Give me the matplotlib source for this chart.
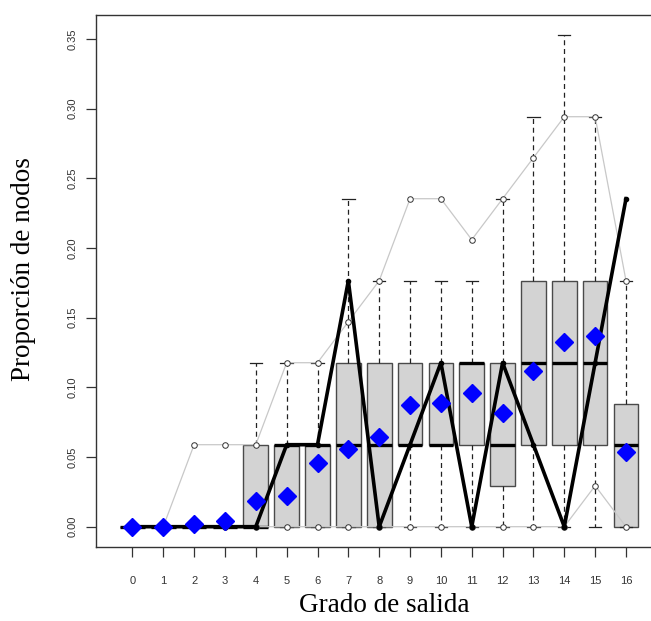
import numpy as np
import matplotlib.pyplot as plt

# grado de salida 0..16, valores en multiplos de 1/17
grados = list(range(17))
q1 = np.array([0, 0, 0, 0, 0, 0, 0, 0, 0, 1, 1, 1, 0.5, 1, 1, 1, 0]) / 17
mediana = np.array([0, 0, 0, 0, 0, 1, 1, 1, 1, 1, 1, 2, 1, 2, 2, 2, 1]) / 17
q3 = np.array([0, 0, 0, 0, 1, 1, 1, 2, 2, 2, 2, 2, 2, 3, 3, 3, 1.5]) / 17
bigote_inf = np.zeros(17)
bigote_sup = np.array([0, 0, 0, 0, 2, 2, 2, 4, 3, 3, 3, 3, 4, 5, 6, 5, 3]) / 17
media = [0.0, 0.0, 0.0022, 0.0043, 0.0184, 0.0222, 0.0459, 0.0557, 0.0646,
         0.0871, 0.0887, 0.0961, 0.0813, 0.1115, 0.1327, 0.1368, 0.0533]
banda_sup = np.array([0, 0, 1, 1, 1, 2, 2, 2.5, 3, 4, 4, 3.5, 4, 4.5, 5, 5, 3]) / 17
banda_inf = np.array([0, 0, 0, 0, 0, 0, 0, 0, 0, 0, 0, 0, 0, 0, 0, 0.5, 0]) / 17
observado = np.array([0, 0, 0, 0, 0, 1, 1, 3, 0, 1, 2, 0, 2, 1, 0, 2, 4]) / 17

fig = plt.figure(figsize=(6.51, 6.21), dpi=100)
ax = fig.add_axes([96 / 651, (621 - 546.7) / 621, 566.4 / 651, 532 / 621])

stats = []
for i in range(17):
    stats.append(dict(med=mediana[i], q1=q1[i], q3=q3[i],
                      whislo=bigote_inf[i], whishi=bigote_sup[i], fliers=[]))

ax.bxp(stats, positions=grados, widths=0.8, capwidths=0.4, patch_artist=True,
       showfliers=False,
       boxprops=dict(facecolor='#d3d3d3', edgecolor='#4a4a4a', linewidth=1.0),
       medianprops=dict(color='black', linewidth=2.4, solid_capstyle='butt'),
       whiskerprops=dict(color='#222222', linewidth=0.9, linestyle=(0, (4, 3))),
       capprops=dict(color='#222222', linewidth=0.9), zorder=2)

# bandas grises
ax.plot(grados, banda_sup, color='#c8c8c8', linewidth=0.9, marker='o',
        markersize=4, markerfacecolor='white', markeredgecolor='#333333',
        markeredgewidth=0.7, zorder=3)
ax.plot(grados, banda_inf, color='#c8c8c8', linewidth=0.9, marker='o',
        markersize=4, markerfacecolor='white', markeredgecolor='#333333',
        markeredgewidth=0.7, zorder=3)

# red observada
ax.plot(grados, observado, color='black', linewidth=2.6, marker='o',
        markersize=3, zorder=4)

# medias
ax.plot(grados, media, linestyle='none', marker='D', markersize=9,
        color='#0000ff', zorder=5)

ax.set_xlim(-1.18, 17.18)
ax.set_ylim(-0.01435, 0.3673)
ax.set_xticks(grados)
ax.set_xticklabels([str(g) for g in grados], family='Liberation Sans')
ax.set_yticks([0, 0.05, 0.10, 0.15, 0.20, 0.25, 0.30, 0.35])
ax.set_yticklabels(['0.00', '0.05', '0.10', '0.15', '0.20', '0.25', '0.30', '0.35'],
                   rotation=90, va='center', family='Liberation Sans')
ax.tick_params(axis='both', length=7, width=0.9, color='#333333',
               labelsize=8, labelcolor='#333333')
ax.tick_params(axis='x', pad=14)
ax.tick_params(axis='y', pad=6)
for s in ax.spines.values():
    s.set_linewidth(1.0)
    s.set_color('#333333')

fig.text(384 / 651, (621 - 606) / 621, 'Grado de salida', family='Liberation Serif',
         fontsize=19.5, ha='center', va='center')
fig.text(24 / 651, (621 - 269) / 621, 'Proporción de nodos', family='Liberation Serif',
         fontsize=19.5, ha='center', va='center', rotation=90)

fig.savefig('out.png', dpi=100)
